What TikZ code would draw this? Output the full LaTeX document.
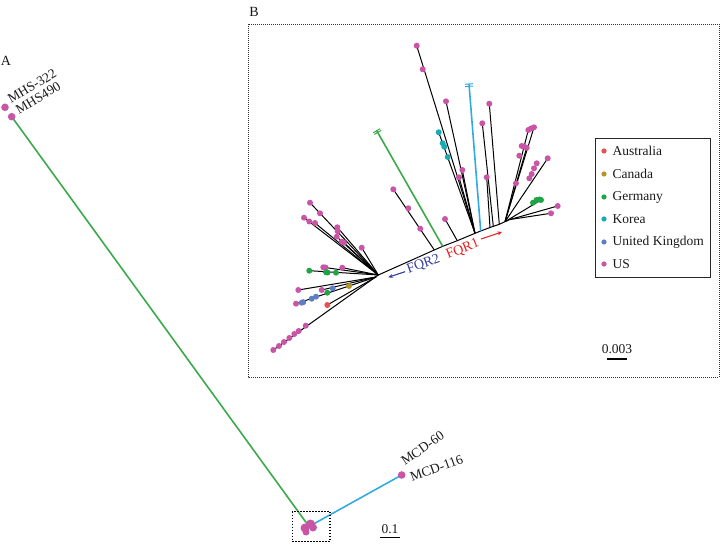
\documentclass[tikz,border=0pt]{standalone}
\usepackage{fontspec}
\setmainfont{Liberation Serif}
\usetikzlibrary{arrows.meta}
\definecolor{uspink}{RGB}{200,85,165}
\definecolor{gergreen}{RGB}{30,165,70}
\definecolor{koteal}{RGB}{25,170,180}
\definecolor{ukblue}{RGB}{95,125,195}
\definecolor{aured}{RGB}{235,80,80}
\definecolor{cayel}{RGB}{180,150,40}
\definecolor{brgreen}{RGB}{60,170,75}
\definecolor{brcyan}{RGB}{50,170,225}
\definecolor{fqred}{RGB}{230,30,30}
\definecolor{fqblue}{RGB}{50,60,160}
\begin{document}
\begin{tikzpicture}[x=1pt,y=-1pt,
  br/.style={line width=1pt,black},
  lbl/.style={font=\fontsize{13.5}{15}\selectfont, inner sep=0pt, text=black!90}]
\useasboundingbox (0,0) rectangle (721,545);

% ---------- Panel B frame ----------
\draw[line width=0.9pt, dash pattern=on 1pt off 1pt, black!80] (248,24) rectangle (719,377);
\node[lbl, font=\fontsize{14}{16}\selectfont] (labB) at (254,12) {B};
\node[lbl, font=\fontsize{14}{16}\selectfont] (labA) at (6,61) {A};

% ---------- Panel B tree ----------
\coordinate (L) at (378.3,275);
\coordinate (L2) at (376,277);
\coordinate (H1) at (434.3,250);
\coordinate (H2) at (442.7,246.3);
\coordinate (H3) at (457.3,240.7);
\coordinate (H4) at (475,233.3);
\coordinate (H5) at (480.7,231);
\coordinate (H6) at (490,227.5);
\coordinate (H7) at (493.3,226.3);
\coordinate (H8) at (499.3,224.3);
\coordinate (R) at (505,221.7);
\coordinate (R2) at (510,219.5);

\draw[br] (L) -- (H1) -- (H2) -- (H3) -- (H4) -- (H5) -- (H6) -- (H7) -- (H8) -- (R) -- (R2);
% lower-left chain
\coordinate (c1) at (273.3,350);
\draw[br] (L) -- (c1);
% upper-left fan
\coordinate (t1) at (310,202.7);
\coordinate (t2) at (304,217.7);
\coordinate (t2b) at (315,223);
\coordinate (t3) at (337.3,227.3);
\coordinate (t3b) at (336.7,236.7);
\coordinate (t3c) at (344,242.7);
\coordinate (t4) at (361.7,247.7);
\foreach \t in {t1,t2,t2b,t3,t3b,t3c,t4} \draw[br] (L) -- (\t);
% middle-left
\coordinate (m1) at (309.3,270.7);
\coordinate (m2) at (323.3,267.3);
\coordinate (m3) at (342.3,267.7);
\foreach \t in {m1,m2,m3} \draw[br] (L) -- (\t);
% lower-left
\coordinate (d1) at (298.3,290);
\coordinate (d2) at (321.7,290);
\coordinate (d3) at (296,303.7);
\coordinate (d4) at (327.3,305);
\foreach \t in {d1,d2,d3,d4} \draw[br] (L2) -- (\t);
% middle branches
\coordinate (e1) at (393.3,189.3);
\draw[br] (H1) -- (e1);
\coordinate (e2) at (445,219);
\draw[br] (H3) -- (e2);
\coordinate (f1) at (416.7,45.7);
\coordinate (f2) at (438.7,132.3);
\coordinate (f3) at (446,101.3);
\coordinate (f4) at (462.3,170);
\coordinate (f5) at (459,177.3);
\foreach \t in {f1,f2,f3,f4,f5} \draw[br] (H4) -- (\t);
\coordinate (g1) at (482.3,123.3);
\coordinate (g2) at (486.7,177.3);
\coordinate (g3) at (489.3,103.7);
\draw[br] (H7) -- (g1);
\draw[br] (H6) -- (g2);
\draw[br] (H8) -- (g3);
% right hub
\coordinate (r1) at (528.3,130);
\coordinate (r1b) at (534,127.3);
\coordinate (r2) at (526.7,147.7);
\coordinate (r3) at (547.7,158.3);
\coordinate (r4) at (541,200);
\coordinate (r5) at (557.7,206);
\coordinate (r6) at (551,213.3);
\foreach \t in {r1,r1b,r2,r3,r4} \draw[br] (R) -- (\t);
\draw[br] (R2) -- (r5);
\draw[br] (R2) -- (r6);

% coloured long branches
\coordinate (gtip) at (376.7,130.7);
\coordinate (ctip) at (469,84);
\draw[brgreen, line width=1.6pt] (H2) -- (gtip);
\draw[brgreen, line width=1pt] (gtip) ++(-3.5,2) -- ++(7,-4);
\draw[brgreen, line width=1pt] (gtip) ++(-2.5,3.7) -- ++(7,-4);
\draw[brcyan, line width=1.6pt] (H5) -- (ctip);
\draw[brcyan, line width=1pt] (ctip) ++(-4,0.3) -- ++(8,-0.6);
\draw[brcyan, line width=1pt] (ctip) ++(-3.8,2.6) -- ++(8,-0.6);

% dots
\foreach \p in {(273.3,350),(279,346),(284,342),(289.3,338),(294.3,334),(298.7,331),(305.7,325.7),
  (310,202.7),(320,213.3),(304,217.7),(309.3,221.5),(315,223),
  (337.3,227.3),(337.7,231.3),(336.7,236.7),(341.7,241.7),(344,242.7),(361.7,247.7),
  (323.3,267.3),(325.5,267.5),(342.3,267.7),
  (298.3,290),(321.7,290),(296,303.7),
  (393.3,189.3),(408.3,208.3),(420.3,228.7),(445,219),
  (416.7,45.7),(422.7,69.3),(446,101.3),(462.3,170),(459,177.3),
  (482.3,123.3),(486.7,177.3),(489.3,103.7),
  (528.3,130),(531,128.5),(534,127.3),(521.7,146),(524,146.7),(526.7,147.7),(519.3,155.7),(516,183.3),
  (547.7,158.3),(536.7,163.3),(534,168.3),(531.7,174),(529.3,178.3),
  (557.7,206),(551,213.3)}
  \fill[uspink] \p circle (3pt);
\foreach \p in {(309.3,270.7),(326,272.3),(327.5,272.5),(336,272.7),(327.3,292.7),(533,202.7),(536.5,200),(539.5,199.5),(541,200)}
  \fill[gergreen] \p circle (3pt);
\foreach \p in {(332.7,288.3),(301.7,302.7),(303.2,302.2),(311.7,298.7),(316,296.7)}
  \fill[ukblue] \p circle (3pt);
\foreach \p in {(438.7,132.3),(442.7,143.3),(444.3,146.7),(447.7,157)}
  \fill[koteal] \p circle (3pt);
\fill[cayel] (349,286) circle (3pt);
\fill[aured] (327.3,305) circle (3pt);

% FQR labels
\node[font=\fontsize{14}{16}\selectfont, text=fqblue, rotate=20, inner sep=0pt] (fqr2) at (423.5,264.5) {FQR2};
\coordinate (a2s) at (405,271.7);
\coordinate (a2e) at (388.3,277.3);
\draw[fqblue, line width=1.1pt, -{Stealth[length=4.5pt,width=4pt]}] (a2s) -- (a2e);
\node[font=\fontsize{14}{16}\selectfont, text=fqred, rotate=22, inner sep=0pt] (fqr1) at (462.7,249.3) {FQR1};
\coordinate (a1s) at (481,239);
\coordinate (a1e) at (502,232);
\draw[fqred, line width=1.1pt, -{Stealth[length=4.5pt,width=4pt]}] (a1s) -- (a1e);

% legend
\draw[line width=1pt, black!85] (595,139) rectangle (710,278);
\foreach \y/\c/\t in {151/aured/Australia,174/cayel/Canada,197/gergreen/Germany,219/koteal/Korea,242/ukblue/United Kingdom,264/uspink/US}{
  \fill[\c] (604,\y) circle (2.6pt);
  \node[lbl, anchor=west] at (612.5,\y) {\t};
}
% scale 0.003
\node[lbl] (s1) at (617,349.5) {0.003};
\draw[line width=1.2pt] (607,359) -- (627,359);

% ---------- Panel A ----------
\coordinate (mhs) at (11.7,116.7);
\coordinate (blob) at (309,526.5);
\coordinate (mcd) at (401.7,475);
\draw[brgreen, line width=1.6pt] (mhs) -- (blob);
\draw[brcyan, line width=1.6pt] (blob) -- (mcd);
\fill[uspink] (5,107.3) circle (3.8pt);
\fill[uspink] (mhs) circle (3.8pt);
\fill[uspink] (mcd) circle (3.8pt);
\fill[uspink] (305,528) circle (4.5pt);
\fill[uspink] (310.5,524) circle (4.5pt);
\fill[uspink] (313,527.5) circle (4pt);
\fill[uspink] (306,532) circle (3.5pt);
\draw[line width=1.5pt, dash pattern=on 1.5pt off 1.5pt] (292.3,511.7) rectangle (330,541.7);

\node[lbl, rotate=31, anchor=base west] (mhs1) at (11,104) {MHS-322};
\node[lbl, rotate=31, anchor=base west] (mhs2) at (19,114.5) {MHS490};
\node[lbl, rotate=35, anchor=base west] (mcd1) at (405,466) {MCD-60};
\node[lbl, rotate=20, anchor=base west] (mcd2) at (412,482) {MCD-116};

\node[lbl] (s2) at (390,529) {0.1};
\draw[line width=1.2pt] (380,537.5) -- (400,537.5);
\end{tikzpicture}
\end{document}
